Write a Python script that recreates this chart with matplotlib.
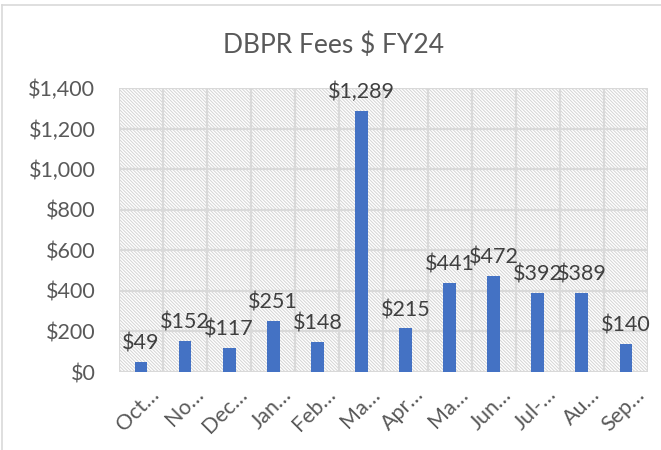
import matplotlib.pyplot as plt
from matplotlib.patches import Rectangle
from matplotlib.lines import Line2D
from matplotlib.transforms import ScaledTranslation

months = ["Oct…", "No…", "Dec…", "Jan…", "Feb…", "Ma…", "Apr…", "Ma…", "Jun…", "Jul-…", "Au…", "Sep…"]
fees = [49, 152, 117, 251, 148, 1289, 215, 441, 472, 392, 389, 140]
yticks = [0, 200, 400, 600, 800, 1000, 1200, 1400]

plt.rcParams['font.family'] = ['Lato', 'DejaVu Sans']
plt.rcParams['hatch.color'] = '#d4d4d4'
plt.rcParams['hatch.linewidth'] = 0.7

fig = plt.figure(figsize=(6.61, 4.5), dpi=100)
ax = fig.add_axes([0.18, 0.1733, 0.8003, 0.631])

# hatched plot background
ax.add_patch(Rectangle((0, 0), 1, 1, transform=ax.transAxes, facecolor='white',
                       edgecolor='#d4d4d4', hatch='\\' * 10, lw=0, zorder=0))

x = range(len(months))
ax.bar(x, fees, width=0.29, color='#4472C4', zorder=3)
for i, v in enumerate(fees):
    ax.annotate(f"${v:,}", (i, v), xytext=(0, 6), textcoords='offset points',
                ha='center', va='bottom', fontsize=15.5, color='#404040', zorder=4)

ax.set_xlim(-0.5, len(months) - 0.5)
ax.set_ylim(0, 1400)
ax.set_yticks(yticks)
ax.set_yticklabels([f"${v:,}" for v in yticks], fontsize=15.5, color='#595959')
ax.set_xticks(list(x))
ax.set_xticklabels(months, rotation=45, ha='right', va='center', rotation_mode='anchor',
                   fontsize=15.5, color='#595959')
ax.tick_params(axis='y', length=0, pad=17)
ax.tick_params(axis='x', length=0, pad=14)
shift = ScaledTranslation(0.15, 0, fig.dpi_scale_trans)
for lab in ax.get_xticklabels():
    lab.set_transform(lab.get_transform() + shift)

for yv in yticks:
    ax.axhline(yv, color='#d9d9d9', lw=1.6, zorder=1)
for xv in range(len(months) + 1):
    ax.axvline(xv - 0.5, color='#d9d9d9', lw=1.6, zorder=1)
for s in ax.spines.values():
    s.set_visible(False)

fig.text(0.505, 0.9, "DBPR Fees $ FY24", ha='center', va='center', fontsize=19, color='#595959')

# chart border
fig.add_artist(Line2D([0.003, 0.003], [0, 0.988], color='#d9d9d9', lw=1.2, transform=fig.transFigure))
fig.add_artist(Line2D([0.003, 1], [0.988, 0.988], color='#d9d9d9', lw=1.2, transform=fig.transFigure))

fig.savefig('out.png', dpi=100)
